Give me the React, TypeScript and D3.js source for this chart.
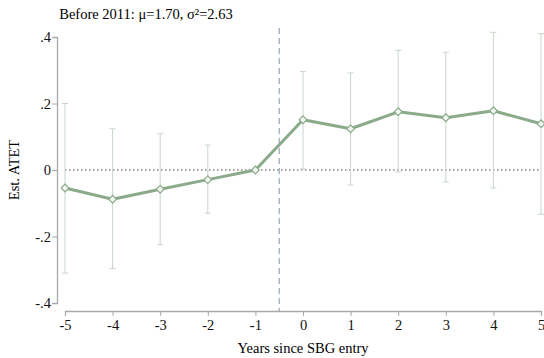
import { useEffect, useRef } from "react";
import * as d3 from "d3";

const years = [-5, -4, -3, -2, -1, 0, 1, 2, 3, 4, 5];
const estimates = [-0.054, -0.088, -0.058, -0.029, 0, 0.151, 0.124, 0.175, 0.157, 0.178, 0.139];
const ciUpper = [0.2, 0.124, 0.109, 0.075, null, 0.296, 0.292, 0.36, 0.354, 0.414, 0.41];
const ciLower = [-0.31, -0.296, -0.224, -0.13, null, 0.003, -0.045, -0.006, -0.036, -0.054, -0.133];
const yTicks = [-0.4, -0.2, 0, 0.2, 0.4];
const yTickLabels = ["-.4", "-.2", "0", ".2", ".4"];

const width = 544;
const height = 358;
const font = "'Liberation Serif', 'Times New Roman', serif";

export default function App() {
  const svgRef = useRef<SVGSVGElement>(null);

  useEffect(() => {
    if (!svgRef.current) return;
    const svg = d3.select(svgRef.current);
    svg.selectAll("*").remove();

    const x = d3.scaleLinear().domain([-5, 5]).range([65, 541]);
    const y = d3.scaleLinear().domain([-0.4, 0.4]).range([303, 37]);
    const axisColor = "#a8a8a8";
    const green = "#8aaa8a";

    // title
    svg.append("text")
      .attr("x", 146).attr("y", 19)
      .attr("text-anchor", "middle")
      .attr("font-family", font).attr("font-size", 14.5)
      .text("Before 2011: μ=1.70, σ²=2.63");

    // y axis
    const yAxis = svg.append("g")
      .attr("transform", "translate(57,0)")
      .call(d3.axisLeft(y).tickValues(yTicks).tickSize(5).tickFormat((_, i) => yTickLabels[i]));
    yAxis.select(".domain").attr("stroke", axisColor).attr("stroke-width", 1.3);
    yAxis.selectAll(".tick line").attr("stroke", axisColor);
    yAxis.selectAll(".tick text")
      .attr("font-family", font).attr("font-size", 14.5).attr("fill", "#111").attr("x", -6);

    // x axis
    const xAxis = svg.append("g")
      .attr("transform", "translate(0,311)")
      .call(d3.axisBottom(x).tickValues(years).tickSize(5).tickFormat((d) => String(d)));
    xAxis.select(".domain").attr("stroke", axisColor).attr("stroke-width", 1.3);
    xAxis.selectAll(".tick line").attr("stroke", axisColor);
    xAxis.selectAll(".tick text")
      .attr("font-family", font).attr("font-size", 14.5).attr("fill", "#111").attr("y", 9);

    svg.append("text")
      .attr("x", 303).attr("y", 353)
      .attr("text-anchor", "middle")
      .attr("font-family", font).attr("font-size", 14.5)
      .text("Years since SBG entry");

    svg.append("text")
      .attr("transform", `translate(19,${y(0)}) rotate(-90)`)
      .attr("text-anchor", "middle")
      .attr("font-family", font).attr("font-size", 14.5)
      .text("Est. ATET");

    // zero reference
    svg.append("line")
      .attr("x1", x(-5)).attr("x2", x(5))
      .attr("y1", y(0)).attr("y2", y(0))
      .attr("stroke", "#444").attr("stroke-width", 1)
      .attr("stroke-dasharray", "1.5,2.5");

    // event line
    svg.append("line")
      .attr("x1", x(-0.5)).attr("x2", x(-0.5))
      .attr("y1", 28).attr("y2", 311)
      .attr("stroke", "#8090a8").attr("stroke-width", 1)
      .attr("stroke-dasharray", "6,4");

    // confidence intervals
    const ci = svg.append("g").attr("stroke", "#c9d6c9").attr("stroke-width", 1);
    years.forEach((yr, i) => {
      const hi = ciUpper[i];
      const lo = ciLower[i];
      if (hi == null || lo == null) return;
      ci.append("line").attr("x1", x(yr)).attr("x2", x(yr)).attr("y1", y(hi)).attr("y2", y(lo));
      ci.append("line").attr("x1", x(yr) - 3).attr("x2", x(yr) + 3).attr("y1", y(hi)).attr("y2", y(hi));
      ci.append("line").attr("x1", x(yr) - 3).attr("x2", x(yr) + 3).attr("y1", y(lo)).attr("y2", y(lo));
    });

    // estimate line
    const pts = years.map((yr, i) => [yr, estimates[i]] as [number, number]);
    svg.append("path")
      .datum(pts)
      .attr("fill", "none")
      .attr("stroke", green)
      .attr("stroke-width", 3)
      .attr("stroke-linejoin", "round")
      .attr("d", d3.line<[number, number]>().x((d) => x(d[0])).y((d) => y(d[1])));

    // hollow diamonds = squares turned 45deg
    const diamond = d3.symbol().type(d3.symbolSquare).size(30);
    svg.append("g").selectAll("path")
      .data(pts)
      .join("path")
      .attr("transform", (d) => `translate(${x(d[0])},${y(d[1])}) rotate(45)`)
      .attr("d", diamond())
      .attr("fill", "#f2f6f2")
      .attr("stroke", green)
      .attr("stroke-width", 1.2);
  }, []);

  return (
    <svg
      ref={svgRef}
      width={width}
      height={height}
      style={{ position: "absolute", left: 0, top: 0, background: "#fff" }}
    />
  );
}
